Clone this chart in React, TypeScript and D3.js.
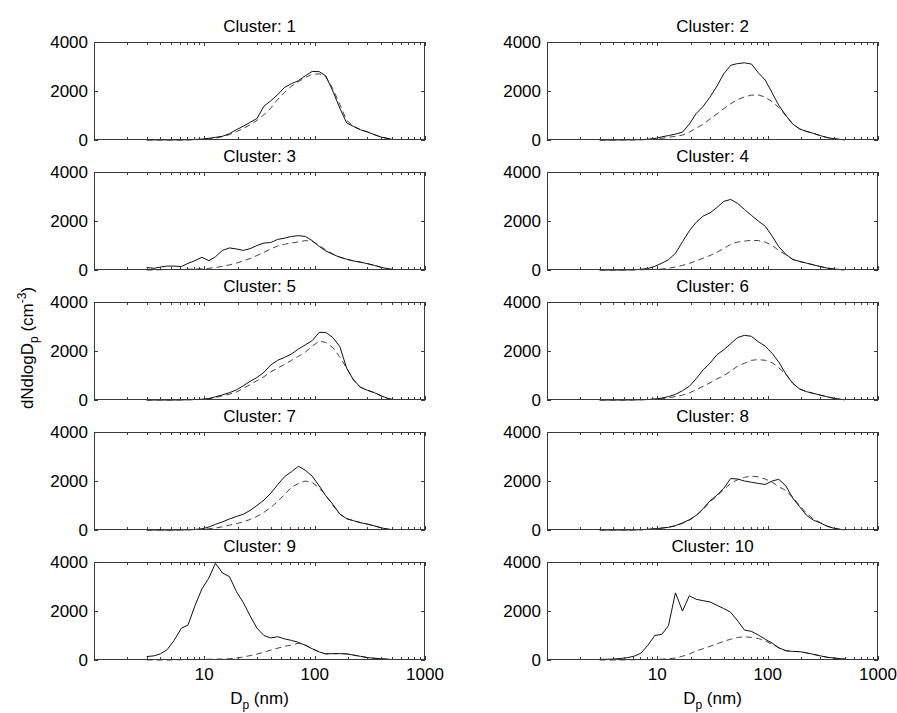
import React from "react";
import * as d3 from "d3";

// Particle diameter grid (nm)
const diameters = [3.0, 3.5, 4.0, 4.6, 5.3, 6.2, 7.1, 8.2, 9.5, 11.0, 12.6, 14.6, 16.9, 19.5, 22.5, 26.0, 30.0, 34.7, 40.0, 46.2, 53.4, 61.7, 71.2, 82.2, 94.9, 110, 126, 146, 169, 195, 225, 260, 300, 347, 400, 462, 500];

const clusterNames = ["Cluster: 1", "Cluster: 2", "Cluster: 3", "Cluster: 4", "Cluster: 5", "Cluster: 6", "Cluster: 7", "Cluster: 8", "Cluster: 9", "Cluster: 10"];

const xTickLabels = [10, 100, 1000];
const yTickValues = [0, 2000, 4000];

// solid = measured, dashed = second curve
const c1Solid = [5, 5, 5, 5, 5, 5, 10, 20, 40, 70, 110, 150, 260, 420, 560, 720, 880, 1380, 1600, 1850, 2150, 2300, 2420, 2620, 2800, 2790, 2620, 2000, 1300, 700, 550, 420, 330, 220, 120, 60, 30];
const c1Dashed = [0, 0, 0, 0, 0, 0, 5, 10, 20, 40, 70, 140, 220, 340, 470, 620, 800, 1030, 1300, 1650, 1950, 2200, 2380, 2550, 2680, 2700, 2580, 2100, 1450, 800, 560, 420, 330, 220, 120, 60, 30];

const c2Solid = [0, 0, 0, 5, 5, 10, 15, 30, 60, 130, 180, 240, 320, 650, 1080, 1370, 1750, 2200, 2700, 3050, 3120, 3150, 3100, 2750, 2450, 1920, 1420, 1000, 650, 450, 350, 270, 180, 100, 50, 20, 10];
const c2Dashed = [0, 0, 0, 0, 5, 5, 10, 20, 40, 70, 110, 150, 200, 320, 480, 640, 860, 1060, 1280, 1480, 1650, 1760, 1830, 1840, 1750, 1560, 1330, 1000, 650, 450, 350, 270, 180, 100, 50, 20, 10];

const c3Solid = [100, 70, 120, 160, 160, 140, 270, 380, 520, 380, 540, 800, 900, 860, 800, 870, 1000, 1100, 1120, 1250, 1300, 1370, 1400, 1370, 1200, 960, 780, 640, 520, 440, 370, 320, 260, 190, 110, 50, 30];
const c3Dashed = [0, 0, 10, 20, 20, 20, 30, 40, 50, 70, 100, 150, 210, 280, 370, 470, 590, 720, 860, 980, 1050, 1100, 1150, 1200, 1170, 1000, 820, 660, 530, 440, 370, 320, 260, 190, 110, 50, 30];

const c4Solid = [0, 0, 0, 0, 5, 10, 30, 60, 150, 280, 420, 680, 1150, 1600, 1950, 2200, 2330, 2550, 2800, 2880, 2720, 2470, 2230, 2000, 1790, 1380, 950, 640, 430, 350, 280, 210, 140, 80, 40, 15, 5];
const c4Dashed = [0, 0, 0, 0, 0, 5, 10, 15, 25, 40, 70, 120, 190, 270, 370, 480, 590, 730, 870, 1050, 1140, 1180, 1210, 1200, 1140, 1000, 800, 620, 430, 350, 280, 210, 140, 80, 40, 15, 5];

const c5Solid = [0, 0, 0, 0, 0, 5, 10, 20, 30, 60, 130, 210, 300, 410, 580, 760, 920, 1130, 1430, 1620, 1740, 1880, 2080, 2250, 2420, 2760, 2760, 2550, 2180, 1300, 820, 520, 400, 300, 170, 60, 30];
const c5Dashed = [0, 0, 0, 0, 0, 5, 10, 15, 25, 50, 100, 170, 240, 320, 470, 630, 790, 950, 1150, 1300, 1450, 1620, 1780, 1950, 2200, 2400, 2350, 2140, 1760, 1300, 820, 520, 400, 300, 170, 60, 30];

const c6Solid = [0, 0, 0, 0, 0, 5, 10, 20, 40, 80, 140, 230, 380, 560, 870, 1230, 1500, 1850, 2050, 2300, 2550, 2640, 2600, 2380, 2200, 1900, 1550, 1060, 680, 450, 340, 270, 200, 130, 70, 25, 10];
const c6Dashed = [0, 0, 0, 0, 0, 5, 10, 20, 30, 50, 90, 140, 200, 290, 420, 560, 700, 860, 990, 1180, 1380, 1500, 1620, 1650, 1620, 1520, 1320, 1060, 680, 450, 340, 270, 200, 130, 70, 25, 10];

const c7Solid = [0, 0, 0, 0, 0, 5, 10, 20, 50, 120, 230, 330, 450, 550, 640, 800, 1000, 1220, 1500, 1850, 2180, 2380, 2600, 2440, 2200, 1800, 1400, 1050, 650, 460, 380, 300, 240, 170, 90, 35, 15];
const c7Dashed = [0, 0, 0, 0, 0, 5, 10, 15, 25, 50, 80, 130, 200, 260, 330, 430, 550, 720, 920, 1160, 1450, 1750, 1900, 2000, 1940, 1720, 1420, 1000, 650, 460, 380, 300, 240, 170, 90, 35, 15];

const c8Solid = [0, 0, 0, 0, 0, 5, 10, 30, 50, 80, 110, 180, 290, 420, 600, 870, 1190, 1420, 1700, 2100, 2080, 2000, 1950, 1900, 1860, 2000, 2070, 1800, 1300, 950, 600, 400, 290, 150, 70, 20, 10];
const c8Dashed = [0, 0, 0, 0, 0, 5, 10, 25, 45, 75, 110, 170, 270, 400, 580, 840, 1150, 1380, 1650, 1900, 2050, 2150, 2200, 2170, 2080, 1950, 1760, 1620, 1330, 1000, 680, 450, 300, 160, 70, 20, 10];

const c9Solid = [140, 170, 250, 420, 790, 1300, 1420, 2200, 2900, 3350, 3950, 3550, 3400, 2800, 2350, 1800, 1300, 1000, 900, 950, 860, 800, 720, 600, 460, 330, 250, 260, 260, 250, 200, 150, 100, 70, 50, 30, 20];
const c9Dashed = [0, 0, 0, 0, 5, 10, 15, 20, 25, 30, 35, 40, 50, 80, 120, 180, 240, 320, 400, 480, 560, 610, 680, 620, 460, 330, 250, 260, 260, 250, 200, 150, 100, 70, 50, 30, 20];

const c10Solid = [30, 30, 40, 60, 90, 160, 280, 600, 1000, 1050, 1400, 2740, 2000, 2620, 2480, 2420, 2370, 2230, 2100, 1950, 1600, 1220, 1170, 1020, 850, 690, 500, 380, 350, 340, 290, 230, 170, 110, 80, 50, 40];
const c10Dashed = [0, 0, 0, 0, 5, 10, 15, 20, 25, 35, 50, 80, 150, 250, 370, 460, 560, 660, 760, 850, 920, 950, 920, 880, 780, 640, 500, 380, 350, 340, 290, 230, 170, 110, 80, 50, 40];

const solidSeries = [c1Solid, c2Solid, c3Solid, c4Solid, c5Solid, c6Solid, c7Solid, c8Solid, c9Solid, c10Solid];
const dashedSeries = [c1Dashed, c2Dashed, c3Dashed, c4Dashed, c5Dashed, c6Dashed, c7Dashed, c8Dashed, c9Dashed, c10Dashed];

const W = 897;
const H = 713;
const colLeft = [94, 547];
const plotW = 331;
const rowBottom = [140, 270, 400, 530, 660];
const plotH = 98;
const FONT = "'Liberation Sans', Arial, Helvetica, sans-serif";
const FS = 17;
const AX = "#3a3a3a";

const minorTicks: number[] = [];
[1, 10, 100].forEach((dec) => {
  for (let k = 1; k <= 9; k++) minorTicks.push(dec * k);
});
minorTicks.push(1000);
const majorTicks = [1, 10, 100, 1000];

function Panel({ idx }: { idx: number }) {
  const col = idx % 2;
  const row = Math.floor(idx / 2);
  const x0 = colLeft[col];
  const x1 = x0 + plotW;
  const yb = rowBottom[row];
  const yt = yb - plotH;
  const x = d3.scaleLog().domain([1, 1000]).range([x0, x1]);
  const y = d3.scaleLinear().domain([0, 4000]).range([yb, yt]);
  const line = d3
    .line<number>()
    .x((_, i) => x(diameters[i]))
    .y((v) => y(v));
  const clipId = `clip${idx}`;
  const isBottom = row === 4;
  return (
    <g>
      <defs>
        <clipPath id={clipId}>
          <rect x={x0} y={yt - 1} width={plotW} height={plotH + 2} />
        </clipPath>
      </defs>
      <text x={(x0 + x1) / 2} y={yt - 10} textAnchor="middle" fontSize={FS} fontFamily={FONT}>
        {clusterNames[idx]}
      </text>
      <g clipPath={`url(#${clipId})`}>
        <path d={line(dashedSeries[idx]) || ""} fill="none" stroke="#444" strokeWidth={1} strokeDasharray="6,4" />
        <path d={line(solidSeries[idx]) || ""} fill="none" stroke="#111" strokeWidth={1} />
      </g>
      <rect x={x0 + 0.5} y={yt + 0.5} width={plotW - 1} height={plotH - 1} fill="none" stroke={AX} strokeWidth={1} />
      {minorTicks.map((t, i) => {
        const xx = Math.round(x(t)) + 0.5;
        const len = majorTicks.includes(t) ? 4 : 3;
        return (
          <g key={i}>
            <line x1={xx} x2={xx} y1={yb} y2={yb - len} stroke={AX} strokeWidth={1} />
            <line x1={xx} x2={xx} y1={yt} y2={yt + len} stroke={AX} strokeWidth={1} />
          </g>
        );
      })}
      {yTickValues.map((t) => {
        const yy = Math.round(y(t)) + 0.5;
        return (
          <g key={t}>
            <line x1={x0} x2={x0 + 4} y1={yy} y2={yy} stroke={AX} strokeWidth={1} />
            <line x1={x1 - 4} x2={x1} y1={yy} y2={yy} stroke={AX} strokeWidth={1} />
            <text x={x0 - 6} y={y(t)} dy="0.36em" textAnchor="end" fontSize={FS} fontFamily={FONT}>
              {t}
            </text>
          </g>
        );
      })}
      {isBottom &&
        xTickLabels.map((t) => (
          <text key={t} x={x(t)} y={yb + 20} textAnchor="middle" fontSize={FS} fontFamily={FONT}>
            {t}
          </text>
        ))}
      {isBottom && (
        <text x={(x0 + x1) / 2} y={yb + 44} textAnchor="middle" fontSize={FS} fontFamily={FONT}>
          D
          <tspan fontSize={12} dy={5}>p</tspan>
          <tspan dy={-5}> (nm)</tspan>
        </text>
      )}
    </g>
  );
}

export default function App() {
  return (
    <svg width={W} height={H} style={{ position: "absolute", left: 0, top: 0, background: "#fff" }}>
      <rect x={0} y={0} width={W} height={H} fill="#fff" />
      {clusterNames.map((_, i) => (
        <Panel key={i} idx={i} />
      ))}
      <text transform="translate(33,348) rotate(-90)" textAnchor="middle" fontSize={FS} fontFamily={FONT}>
        dNdlogD
        <tspan fontSize={12} dy={5}>p</tspan>
        <tspan dy={-5}> (cm</tspan>
        <tspan fontSize={12} dy={-7}>-3</tspan>
        <tspan dy={7}>)</tspan>
      </text>
    </svg>
  );
}
